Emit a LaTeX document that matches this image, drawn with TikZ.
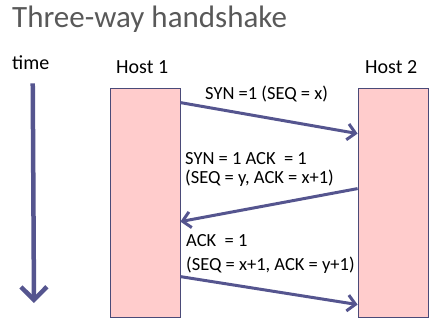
\documentclass[tikz,border=0pt]{standalone}
\usepackage{fontspec}
\setmainfont{Carlito}
\usetikzlibrary{arrows.meta}
\definecolor{hostfill}{HTML}{FFCCCC}
\definecolor{hostline}{HTML}{4A4A78}
\definecolor{msgcol}{HTML}{55558F}
\definecolor{titlecol}{HTML}{595959}

\begin{document}
\begin{tikzpicture}[x=1pt,y=-1pt,
  host/.style={draw=hostline,fill=hostfill,line width=0.8pt,minimum width=70pt,minimum height=229pt,inner sep=0pt},
  msg/.style={draw=msgcol,line width=3pt,-{Straight Barb[length=8pt,width=16pt]}},
  lab/.style={font=\fontsize{18.5}{19}\selectfont,anchor=base west,inner sep=0pt}]
\useasboundingbox (0,0) rectangle (433,328);
\node[font=\fontsize{31}{33}\selectfont,text=titlecol,anchor=base west,inner sep=0pt] (title) at (12,28) {Three-way handshake};
\node[lab,font=\fontsize{20}{22}\selectfont] (time) at (12,70) {time};
\node[lab,font=\fontsize{20}{22}\selectfont] (host1) at (116,74) {Host 1};
\node[lab,font=\fontsize{20}{22}\selectfont] (host2) at (365,74) {Host 2};
\node[host] (h1) at (145,202.5) {};
\node[host] (h2) at (393,202.5) {};
\coordinate (tend) at (34,303);
\draw[msg,line width=4.5pt,-{Straight Barb[length=13pt,width=26pt]}] ([xshift=2pt,yshift=-13pt]time.south) -- (tend);
% messages
\draw[msg] ([yshift=-15pt]h1.north east) -- ([yshift=-46pt]h2.north west);
\draw[msg] ([yshift=-101pt]h2.north west) -- ([yshift=-134pt]h1.north east);
\draw[msg] ([yshift=-189pt]h1.north east) -- ([yshift=-217pt]h2.north west);
\node[lab] (m1) at (205,100) {SYN =1 (SEQ = x)};
\node[lab] (m2a) at (185,165) {SYN = 1 ACK\ \ = 1};
\node[lab] (m2b) at (185,184) {(SEQ = y, ACK = x+1)};
\node[lab] (m3a) at (186,247) {ACK\ \ = 1};
\node[lab] (m3b) at (186,271) {(SEQ = x+1, ACK = y+1)};
\end{tikzpicture}
\end{document}
